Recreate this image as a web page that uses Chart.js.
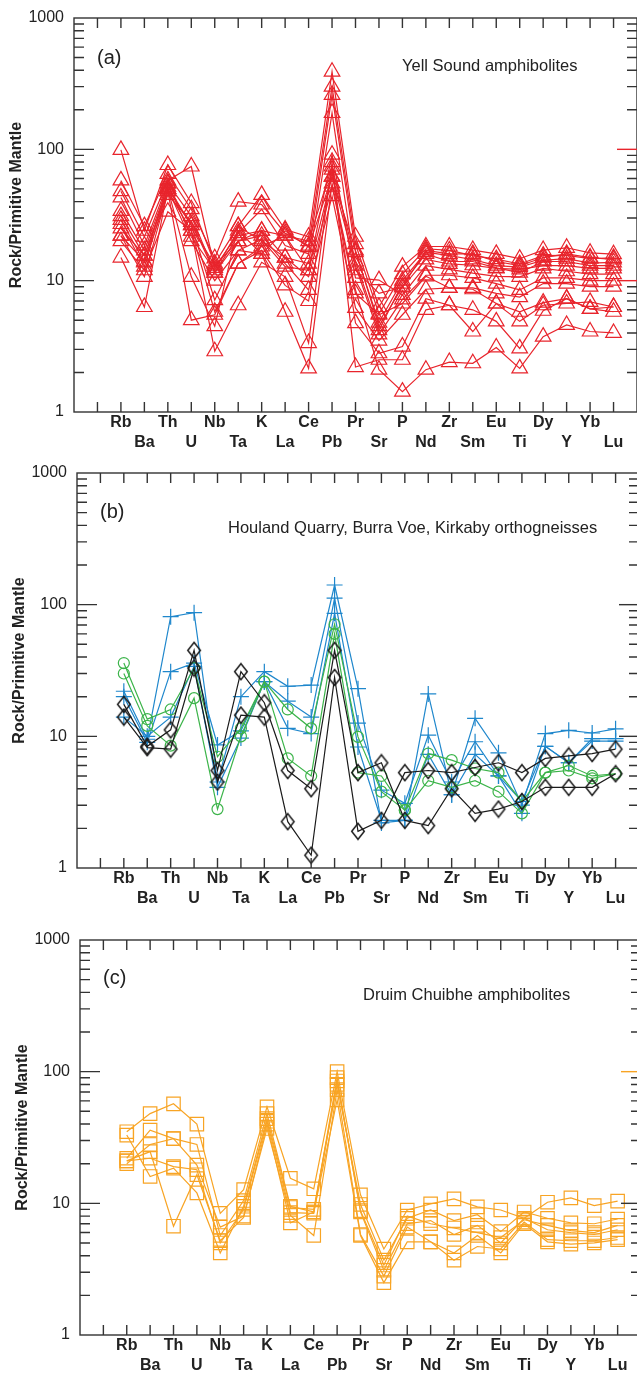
<!DOCTYPE html>
<html>
<head>
<meta charset="utf-8">
<script src="https://cdn.jsdelivr.net/npm/chart.js@4.4.1/dist/chart.umd.min.js"></script>
<style>
    html, body { margin: 0; padding: 0; background: #fff; overflow: hidden; width: 637px; height: 1375px; }
    canvas { position: absolute; left: 0; }
</style>
</head>
<body>
<canvas id="chart-a" width="637" height="458" style="top:0px"></canvas>
<canvas id="chart-b" width="642" height="462" style="top:455px"></canvas>
<canvas id="chart-c" width="642" height="455" style="top:920px"></canvas>
<script>
    // element order on the x axis
    const elements = ['Rb', 'Ba', 'Th', 'U', 'Nb', 'Ta', 'K', 'La', 'Ce', 'Pb', 'Pr',
        'Sr', 'P', 'Nd', 'Zr', 'Sm', 'Eu', 'Ti', 'Dy', 'Y', 'Yb', 'Lu']
    const yTickLabels = [1, 10, 100, 1000]

    // (a) Yell Sound amphibolites
    const yellSound = [
        [99, 24, 76, 39, 13.5, 26, 45, 24.5, 21.6, 390, 21.6, 6.3, 12.8, 18.2, 18.2, 17.1, 16, 14.7, 17.1, 17.8, 16.3, 15.9],
        [58, 26, 65, 35, 14.8, 40, 38, 23, 18.5, 300, 19, 5.6, 11.2, 17.5, 17, 15.5, 14.6, 13.4, 15.5, 15.6, 14.7, 14.9],
        [48, 21.6, 58, 74, 12.5, 23, 35, 18.5, 16, 260, 16.5, 4.8, 10, 16.5, 15.5, 14.5, 13, 12.7, 14.3, 14.7, 13.6, 13.8],
        [43, 18.5, 55, 31, 11.5, 20, 24, 15, 13.5, 189, 12, 8, 8.9, 14.5, 13.4, 13.1, 12.4, 12.2, 13, 13, 12.4, 12.4],
        [34, 17, 52, 26.5, 7.1, 17, 20.6, 12.8, 12, 91, 10.5, 10.1, 7.8, 13, 12.2, 11.4, 10.8, 10.7, 12.4, 11.8, 11.2, 11.2],
        [31, 15.5, 48, 24, 5.8, 13.5, 18.2, 22, 20, 74, 14, 4.2, 9.5, 16, 14, 14, 12.5, 11.5, 14, 14, 13, 13],
        [29, 13.8, 55, 21.6, 12, 24, 16, 24, 18, 62, 13, 3.9, 7.2, 11, 11, 10.5, 9.5, 8.5, 10.5, 10.5, 10, 10],
        [27, 12.8, 50, 10.7, 4.5, 26, 20, 15, 10.7, 52, 8, 5.5, 6.7, 10.8, 8.8, 8.8, 8, 7.5, 9.5, 9.5, 9, 9],
        [25, 15.5, 50, 26.5, 13, 20, 22, 13.5, 8.5, 44, 6.2, 3.5, 5.5, 8.6, 8.8, 8.6, 6.7, 5.8, 6.8, 7.3, 6.1, 5.8],
        [22, 10.7, 48, 5.0, 5.5, 13.5, 17, 9.2, 7, 70, 4.75, 2.8, 3.15, 7.3, 6.5, 4.1, 6.7, 4.9, 6.5, 6.7, 6.9, 6.3],
        [20, 12, 33.5, 24, 2.9, 6.5, 13.8, 10.7, 3.35, 80, 2.2, 2.5, 2.5, 6.0, 6.5, 6.0, 4.9, 3.05, 5.9, 7.3, 6.1, 6.3],
        [15, 6.3, 50, 20, 10, 17, 16, 5.8, 2.15, 55, 8.5, 2.1, 1.43, 2.1, 2.4, 2.35, 3.1, 2.15, 3.75, 4.6, 4.1, 4.0],
        [22, 14, 45, 28, 11.5, 22, 24, 22, 12, 62, 17, 4.5, 9, 17, 16, 16, 14, 13, 15, 16, 15, 14.5],
    ]

    // (b) orthogneisses
    const blueSeries = [
        [22, 9.5, 81, 87, 4.5, 20, 31, 24, 24.5, 141, 23, 2.2, 2.3, 21, 3.6, 13.7, 7.5, 3.0, 10.5, 11.1, 10.6, 11.4],
        [20, 9, 31, 36, 8.6, 11, 26, 18.5, 14, 112, 12.6, 3.9, 3.1, 10.2, 4.5, 9.1, 5.0, 3.2, 8.4, 6.3, 9.6, 9.6],
        [14, 10, 14, 34, 4.1, 9.7, 26, 11.5, 10.5, 86, 8.3, 2.3, 2.3, 7.3, 3.6, 7.3, 5.0, 2.6, 8.4, 6.3, 9.2, 9.2],
    ]
    const greenSeries = [
        [36, 13.5, 16, 33, 7, 11.5, 26, 16, 11.5, 71, 9.9, 3.8, 2.75, 7.4, 6.6, 5.7, 5.3, 3.2, 5.3, 6.0, 5.0, 5.2],
        [30, 12, 8.5, 19.5, 2.8, 10, 26, 6.8, 5, 60, 5.3, 5.0, 2.75, 4.6, 4.1, 4.6, 3.8, 2.6, 5.3, 5.5, 4.8, 5.2],
    ]
    const blackSeries = [
        [17.5, 8.4, 11.2, 45, 5.5, 31, 18, 5.5, 4.0, 45, 5.3, 6.3, 2.3, 2.1, 4.0, 2.6, 2.8, 3.2, 4.1, 4.1, 4.1, 5.2],
        [14, 8.2, 8, 33, 4.5, 14.5, 14, 2.25, 1.25, 28, 1.9, 2.3, 5.3, 5.5, 5.3, 5.8, 6.3, 5.3, 6.8, 7.1, 7.4, 8.0],
    ]

    // (c) Druim Chuibhe amphibolites
    const druimChuibhe = [
        [35, 48, 57, 40, 8.4, 12.7, 54, 15.5, 12.9, 100, 11.6, 4.5, 8.9, 9.9, 10.8, 9.4, 8.9, 7.7, 10.2, 11, 9.6, 10.4],
        [33, 16, 18.5, 12, 4.2, 9.5, 44, 9.3, 9.0, 80, 9.8, 3.7, 7.7, 8.9, 7.4, 8.2, 6.1, 8.6, 7.7, 7.1, 7.0, 7.6],
        [22, 36, 31, 28, 5.7, 10.5, 48, 9.5, 8.6, 90, 8.6, 3.1, 7.0, 7.4, 5.8, 6.8, 5.0, 7.7, 6.3, 6.0, 5.8, 6.3],
        [20, 28, 31, 19.5, 6.6, 8, 37, 8.1, 5.7, 73, 5.8, 2.8, 6.6, 5.1, 4.2, 5.7, 4.2, 7.0, 5.1, 4.9, 5.0, 5.3],
        [21, 24.7, 6.7, 16.5, 5.2, 7.8, 40, 7.1, 8.6, 61, 5.7, 2.5, 5.1, 5.1, 3.7, 4.7, 4.5, 7.2, 5.3, 5.2, 5.2, 5.5],
        [21, 22, 19, 18, 5, 9, 42, 8.5, 8.4, 85, 8.8, 3.4, 8.0, 7.0, 6.5, 6.0, 5.5, 7.5, 6.8, 6.2, 6.0, 6.8],
    ]

    const FONT = "'Liberation Sans', Arial, sans-serif"
    const INK = '#222'

    const red = '#e8242c'
    const blue = '#1f87cc'
    const green = '#3cb44a'
    const black = '#1a1a1a'
    const orange = '#f8a424'

    // tall narrow diamond marker used in panel (b)
    function diamondMarker(color) {
        const c = document.createElement('canvas')
        c.width = 16
        c.height = 19
        const g = c.getContext('2d')
        g.strokeStyle = color
        g.lineWidth = 1.5
        g.beginPath()
        g.moveTo(8, 1.5)
        g.lineTo(14.3, 9.5)
        g.lineTo(8, 17.5)
        g.lineTo(1.7, 9.5)
        g.closePath()
        g.stroke()
        return c
    }

    function seriesSet(list, color, style, radius) {
        return list.map(s => ({
            data: elements.map((e, i) => ({ x: i + 1, y: s[i] })),
            borderColor: color,
            borderWidth: 1.2,
            pointStyle: style,
            pointRadius: radius,
            pointBorderColor: color,
            pointBorderWidth: 1.2,
            pointBackgroundColor: 'rgba(0,0,0,0)',
            fill: false,
            tension: 0,
            clip: 12
        }))
    }

    // box, inward ticks and panel texts
    const framePlugin = {
        id: 'frame',
        afterDraw(chart, args, o) {
            const { ctx, chartArea: { left, right, top, bottom }, scales: { x, y } } = chart
            ctx.save()
            ctx.strokeStyle = '#333'
            ctx.lineWidth = 1.4
            ctx.strokeRect(left, top, right - left, bottom - top)

            ctx.beginPath()
            for (let i = 0; i <= 22; i++) {
                const px = x.getPixelForValue(i)
                ctx.moveTo(px, top); ctx.lineTo(px, top + 10)
                ctx.moveTo(px, bottom); ctx.lineTo(px, bottom - 10)
            }
            for (const d of [1, 10, 100]) {
                for (let m = 1; m < 10; m++) {
                    const v = d * m
                    if (v === 1) continue
                    const py = y.getPixelForValue(v)
                    const len = m === 1 ? 20 : 10
                    ctx.moveTo(left, py); ctx.lineTo(left + len, py)
                    if (m !== 1) { ctx.moveTo(right, py); ctx.lineTo(right - len, py) }
                }
            }
            ctx.stroke()

            for (const v of [10, 100]) {
                const py = y.getPixelForValue(v)
                ctx.strokeStyle = o.rightMajor[v]
                ctx.beginPath()
                ctx.moveTo(right, py); ctx.lineTo(right - 20, py)
                ctx.stroke()
            }

            ctx.fillStyle = INK
            ctx.textBaseline = 'alphabetic'
            ctx.textAlign = 'left'
            ctx.font = '20px ' + FONT
            ctx.fillText(o.tag, left + 23, top + o.tagY)
            ctx.font = '16.5px ' + FONT
            ctx.fillText(o.title, o.titleX, top + o.titleY)

            ctx.save()
            ctx.translate(left - 57, (top + bottom) / 2 - 10)
            ctx.rotate(-Math.PI / 2)
            ctx.textAlign = 'center'
            ctx.textBaseline = 'middle'
            ctx.font = 'bold 16px ' + FONT
            ctx.fillText('Rock/Primitive Mantle', 0, 0)
            ctx.restore()
            ctx.restore()
        }
    }

    function makePanel(id, datasets, geo, frame) {
        const canvas = document.getElementById(id)
        return new Chart(canvas, {
            type: 'line',
            data: { datasets: datasets },
            options: {
                responsive: false,
                animation: false,
                devicePixelRatio: 1,
                layout: { autoPadding: false, padding: { top: geo.top, right: geo.right, left: 0, bottom: 0 } },
                plugins: { legend: { display: false }, tooltip: { enabled: false }, frame: frame },
                scales: {
                    x: {
                        type: 'linear', min: -1, max: 23,
                        afterFit: s => {
                            s.height = canvas.height - geo.bottom
                            s.paddingLeft = 0
                            s.paddingRight = 0
                        },
                        afterBuildTicks: s => { s.ticks = elements.map((e, i) => ({ value: i + 1 })) },
                        ticks: {
                            autoSkip: false, maxRotation: 0, minRotation: 0, padding: 1, color: INK,
                            font: { family: FONT, size: 16, weight: 'bold', lineHeight: 1.25 },
                            callback: v => {
                                const i = Math.round(v) - 1
                                return i % 2 === 0 ? [elements[i], ''] : ['', elements[i]]
                            }
                        },
                        grid: { display: false, drawTicks: false },
                        border: { display: false }
                    },
                    y: {
                        type: 'logarithmic', min: 1, max: 1000,
                        afterFit: s => {
                            s.width = geo.left
                            s.paddingTop = 0
                            s.paddingBottom = 0
                        },
                        afterBuildTicks: s => { s.ticks = yTickLabels.map(v => ({ value: v })) },
                        ticks: {
                            autoSkip: false, padding: 10, color: INK,
                            font: { family: FONT, size: 16 },
                            callback: v => String(v)
                        },
                        grid: { display: false, drawTicks: false },
                        border: { display: false }
                    }
                }
            },
            plugins: [framePlugin]
        })
    }

    makePanel('chart-a', seriesSet(yellSound, red, 'triangle', 9),
        { left: 74, top: 18, right: 0, bottom: 412 },
        { rightMajor: { 10: red, 100: red }, tag: '(a)', tagY: 46, title: 'Yell Sound amphibolites', titleX: 402, titleY: 53 })

    makePanel('chart-b', [
            ...seriesSet(blackSeries, black, diamondMarker(black), 8),
            ...seriesSet(greenSeries, green, 'circle', 5.5),
            ...seriesSet(blueSeries, blue, 'cross', 8)
        ],
        { left: 77, top: 18, right: 3, bottom: 413 },
        { rightMajor: { 10: '#333', 100: '#333' }, tag: '(b)', tagY: 45, title: 'Houland Quarry, Burra Voe, Kirkaby orthogneisses', titleX: 228, titleY: 60 })

    makePanel('chart-c', seriesSet(druimChuibhe, orange, 'rect', 9.5),
        { left: 80, top: 20, right: 1, bottom: 415 },
        { rightMajor: { 10: '#333', 100: orange }, tag: '(c)', tagY: 44, title: 'Druim Chuibhe amphibolites', titleX: 363, titleY: 60 })
</script>
</body>
</html>
